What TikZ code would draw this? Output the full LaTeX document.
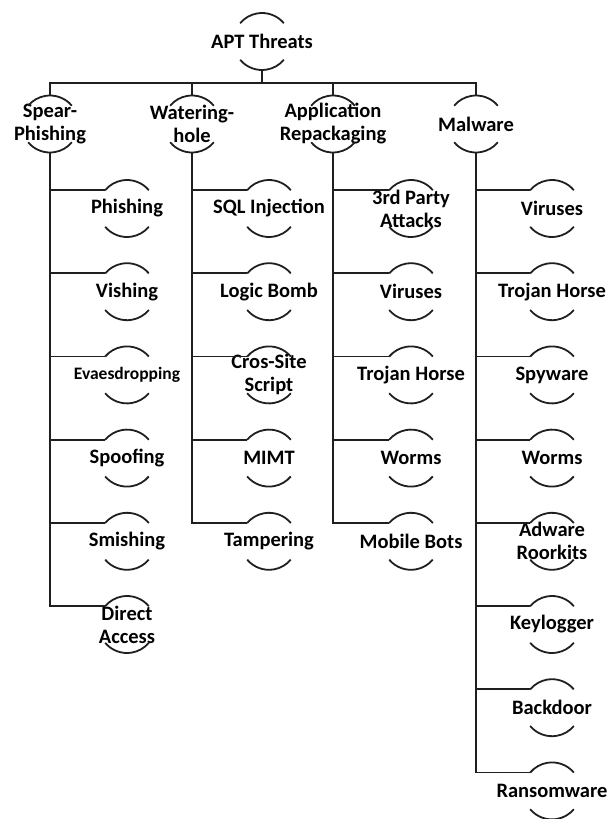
\documentclass[tikz,border=0pt]{standalone}
\usepackage{fontspec}
\setmainfont{Carlito}
\tikzset{
  lbl/.style={font=\bfseries\fontsize{20.5}{23}\selectfont, align=center, inner sep=0pt, text=black},
  smalllbl/.style={font=\bfseries\fontsize{17.5}{20}\selectfont},
  rim/.style={line width=1.8pt, draw=black!88},
  link/.style={line width=1.8pt, draw=black!88, line join=miter},
}
% \ringnode[opts]{name}{x,y}{text}: a label framed by an upper and a lower arc,
% with anchor coordinates name-t (top), name-b (bottom) and name-l (left end of upper arc)
\newcommand\ringnode[4][]{%
  \node[lbl,#1] (#2) at (#3) {#4};
  \draw[rim] ([shift={(40:28.5)}]#2.center) arc[start angle=40, end angle=140, radius=28.5];
  \draw[rim] ([shift={(220:28.5)}]#2.center) arc[start angle=220, end angle=320, radius=28.5];
  \coordinate (#2-t) at ([yshift=28.5]#2.center);
  \coordinate (#2-b) at ([yshift=-28.5]#2.center);
  \coordinate (#2-l) at ([shift={(140:28.5)}]#2.center);
}
\begin{document}
\begin{tikzpicture}[x=1pt, y=1pt]
\useasboundingbox (0,0) rectangle (606,-819);

% root and first level
\ringnode{root}{262,-41.5}{APT Threats}
\ringnode{sp}{50,-124}{Spear-\\Phishing}
\ringnode{wh}{192,-124}{Watering-\\hole}
\ringnode{ar}{333,-124}{Application\\Repackaging}
\ringnode{mw}{476,-124}{Malware}

\coordinate (bus) at (262,-83);
\draw[link] (root-b) -- (bus);
\foreach \n in {sp,wh,ar,mw} \draw[link] (\n-t) |- (bus);

% Spear-Phishing branch
\ringnode{sp1}{127,-208.5}{Phishing}
\ringnode{sp2}{127,-291.7}{Vishing}
\ringnode[smalllbl]{sp3}{127,-374.9}{Evaesdropping}
\ringnode{sp4}{127,-458.1}{Spoofing}
\ringnode{sp5}{127,-541.3}{Smishing}
\ringnode{sp6}{127,-624.5}{Direct\\Access}
\foreach \n in {sp1,sp2,sp3,sp4,sp5,sp6} \draw[link] (sp-b) |- (\n-l);

% Watering-hole branch
\ringnode{wh1}{269,-208.5}{SQL Injection}
\ringnode{wh2}{269,-291.7}{Logic Bomb}
\ringnode{wh3}{269,-374.9}{Cros-Site\\Script}
\ringnode{wh4}{269,-458.1}{MIMT}
\ringnode{wh5}{269,-541.3}{Tampering}
\foreach \n in {wh1,wh2,wh3,wh4,wh5} \draw[link] (wh-b) |- (\n-l);

% Application Repackaging branch
\ringnode{ar1}{411,-208.5}{3rd Party\\Attacks}
\ringnode{ar2}{411,-291.7}{Viruses}
\ringnode{ar3}{411,-374.9}{Trojan Horse}
\ringnode{ar4}{411,-458.1}{Worms}
\ringnode{ar5}{411,-541.3}{Mobile Bots}
\foreach \n in {ar1,ar2,ar3,ar4,ar5} \draw[link] (ar-b) |- (\n-l);

% Malware branch
\ringnode{mw1}{552,-208.5}{Viruses}
\ringnode{mw2}{552,-291.7}{Trojan Horse}
\ringnode{mw3}{552,-374.9}{Spyware}
\ringnode{mw4}{552,-458.1}{Worms}
\ringnode{mw5}{552,-541.3}{Adware\\Roorkits}
\ringnode{mw6}{552,-624.5}{Keylogger}
\ringnode{mw7}{552,-707.7}{Backdoor}
\ringnode{mw8}{552,-790.9}{Ransomware}
\foreach \n in {mw1,mw2,mw3,mw4,mw5,mw6,mw7,mw8} \draw[link] (mw-b) |- (\n-l);
\end{tikzpicture}
\end{document}
